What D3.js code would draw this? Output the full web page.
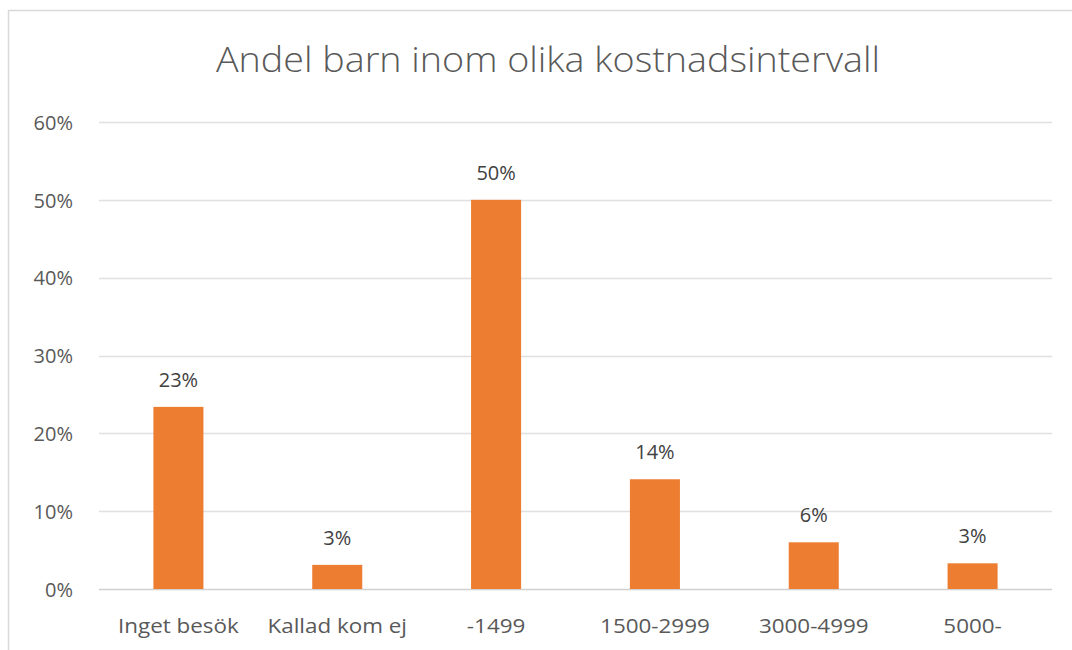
<!DOCTYPE html>
<html><head><meta charset="utf-8">
<script src="https://cdn.jsdelivr.net/npm/d3@7"></script>
<style>body{margin:0;background:#fff;} svg{display:block;}</style>
</head><body>
<svg id="c" width="1072" height="650"></svg>
<script>
const categories = ["Inget besök","Kallad kom ej","-1499","1500-2999","3000-4999","5000-"];
const values = [0.234, 0.031, 0.50, 0.141, 0.060, 0.033];
const dataLabels = ["23%","3%","50%","14%","6%","3%"];
const yTicks = [0,0.1,0.2,0.3,0.4,0.5,0.6];
const title = "Andel barn inom olika kostnadsintervall";

const svg = d3.select("#c");
const font = "'Open Sans', 'Noto Sans', sans-serif";
function stretch(sel, f){ sel.each(function(){ const w=this.getComputedTextLength(); d3.select(this).attr("textLength", w*f).attr("lengthAdjust","spacingAndGlyphs"); }); }

svg.append("path").attr("d","M8.5,650 L8.5,10.5 L1072,10.5").attr("fill","none").attr("stroke","#d9d9d9").attr("stroke-width",1.5);

const x = d3.scaleBand().domain(categories).range([99,1052]).paddingInner(0.685).paddingOuter(0.3425);
const y = d3.scaleLinear().domain([0,0.6]).range([589,122]);

svg.append("g").selectAll("line").data(yTicks).join("line")
  .attr("x1",99).attr("x2",1052).attr("y1",d=>Math.round(y(d))+0.5).attr("y2",d=>Math.round(y(d))+0.5)
  .attr("stroke",d=>d===0?"#d0d0d0":"#e0e0e0").attr("stroke-width",1.3);

const yAxis = d3.axisLeft(y).tickValues(yTicks).tickFormat(d3.format(".0%")).tickSize(0).tickPadding(0);
const ya = svg.append("g").attr("transform","translate(73,0)").call(yAxis);
ya.select(".domain").remove();
ya.selectAll("text").attr("font-family",font).attr("font-size",20).attr("fill","#595959").attr("dy","0.36em");

svg.append("g").selectAll("rect").data(values).join("rect")
  .attr("x",(d,i)=>x(categories[i])).attr("width",x.bandwidth())
  .attr("y",d=>y(d)).attr("height",d=>y(0)-y(d)).attr("fill","#ed7d31");

const dl = svg.append("g").selectAll("text").data(values).join("text")
  .attr("x",(d,i)=>x(categories[i])+x.bandwidth()/2).attr("y",d=>y(d)-20)
  .attr("text-anchor","middle").attr("font-family",font).attr("font-size",20).attr("fill","#404040")
  .text((d,i)=>dataLabels[i]);

const xAxis = d3.axisBottom(x).tickSize(0).tickPadding(0);
const xa = svg.append("g").attr("transform","translate(0,589)").call(xAxis);
xa.select(".domain").remove();
const xt = xa.selectAll("text").attr("font-family",font).attr("font-size",20).attr("fill","#595959").attr("dy","0").attr("y",44);
stretch(xt, 1.12);

const t = svg.append("text").attr("x",548).attr("y",72).attr("text-anchor","middle")
  .attr("font-family",font).attr("font-weight",300).attr("font-size",34).attr("fill","#595959").text(title);
t.attr("textLength",664).attr("lengthAdjust","spacingAndGlyphs");
</script>
</body></html>
